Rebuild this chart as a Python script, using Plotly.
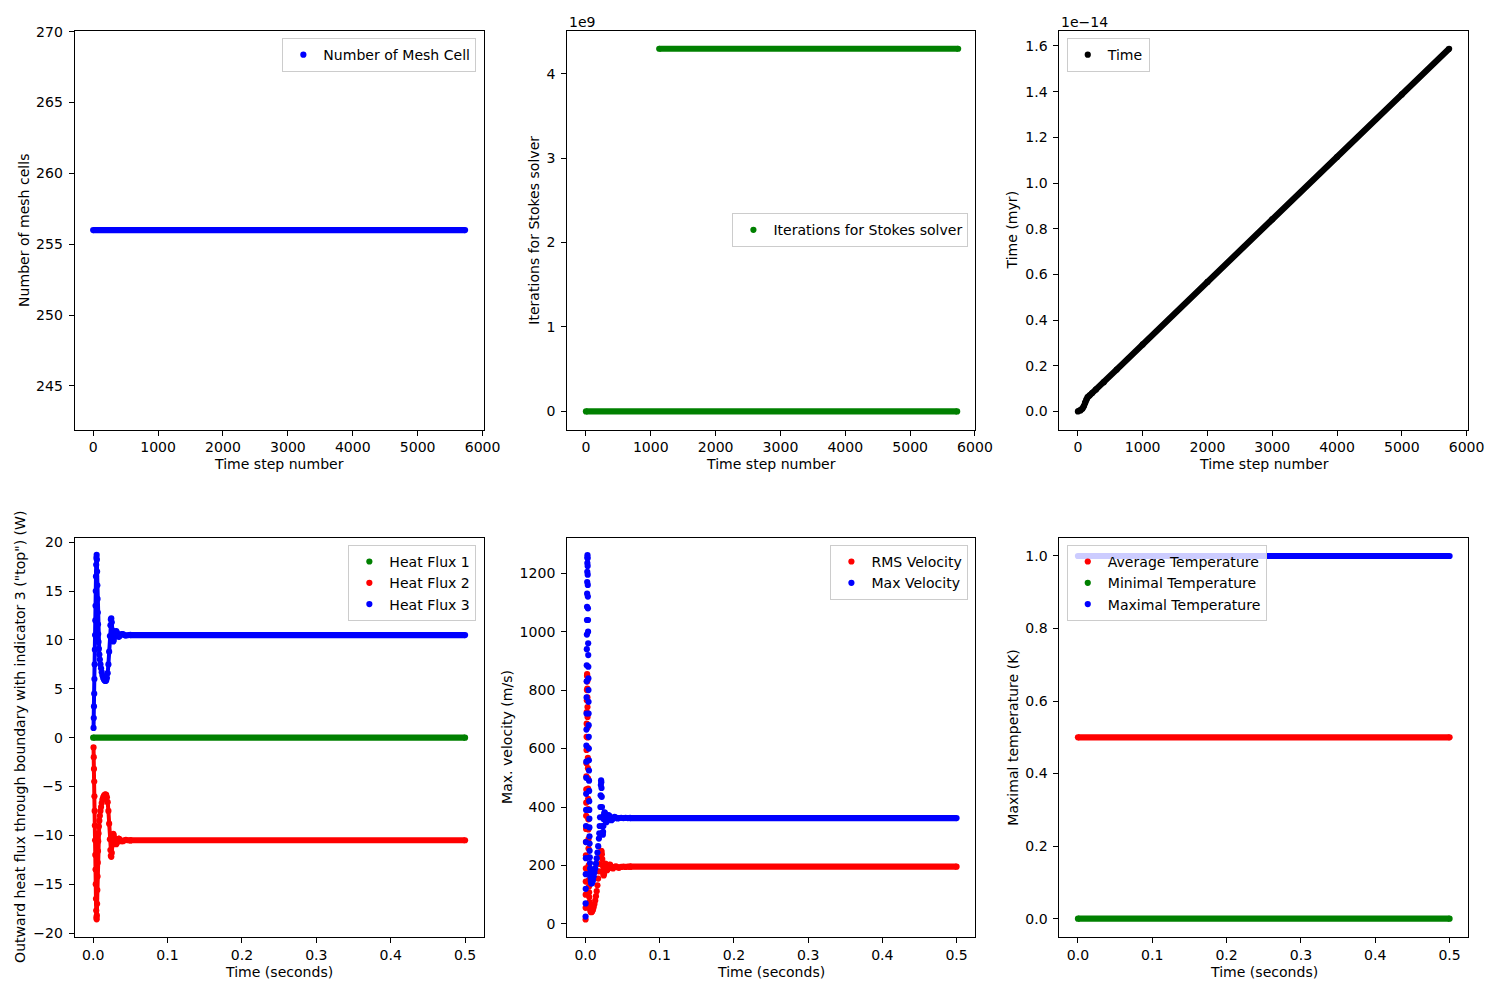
import plotly.graph_objects as go

# ---------------- data ----------------
# Top row: x = time step number
mesh_steps = [0, 5730]
mesh_cells = [256, 256]

stokes_zero_steps = [0, 5725]
stokes_zero_iters = [0, 0]
stokes_wrap_steps = [1130, 5740]
stokes_wrap_iters = [4.295e9, 4.295e9]

time_steps = [0, 40, 70, 90, 110, 130, 150, 180, 220, 280, 400, 600, 1000,
              2000, 3000, 4000, 5000, 5730]
time_myr = [0.0, 0.004e-14, 0.012e-14, 0.022e-14, 0.038e-14, 0.052e-14,
            0.062e-14, 0.070e-14, 0.080e-14, 0.096e-14, 0.128e-14, 0.183e-14,
            0.293e-14, 0.567e-14, 0.841e-14, 1.114e-14, 1.388e-14, 1.588e-14]

# Bottom left: heat flux (x = time in seconds)
flux_t = [0.0005, 0.0008, 0.0011, 0.0014, 0.0017, 0.0020, 0.0023, 0.0026,
          0.0029, 0.0032, 0.0035, 0.0038, 0.0041, 0.0044, 0.0047,
          0.0050, 0.0053, 0.0056, 0.0059, 0.0062, 0.0065, 0.0068, 0.0072,
          0.0077, 0.0083, 0.0090, 0.0098, 0.0106, 0.0115, 0.0125, 0.0135,
          0.0145, 0.0155, 0.0165, 0.0175, 0.0185, 0.0195, 0.0205, 0.0215,
          0.0225, 0.0232, 0.0238, 0.0244, 0.0250, 0.0255, 0.0260, 0.0265,
          0.0270, 0.0275, 0.0280, 0.0290, 0.0300, 0.0310, 0.0320, 0.0330,
          0.0340, 0.0350, 0.0360, 0.0380, 0.0400, 0.0420, 0.0440, 0.0470,
          0.0500]
flux3 = [1.0, 2.0, 3.2, 4.5, 6.0, 7.5, 9.0, 10.5, 12.0, 13.5, 15.0, 16.5,
         17.7, 18.4, 18.7,
         18.2, 17.0, 15.6, 14.2, 12.8, 11.6, 10.6, 9.8, 9.1, 8.5,
         8.0, 7.5, 7.1, 6.7, 6.35, 6.1, 5.95, 5.85, 5.8, 5.85,
         6.1, 6.6, 7.5, 8.8, 10.4, 11.5, 12.1, 12.2, 11.8, 11.0,
         10.3, 9.95, 9.85, 9.95, 10.2, 10.6, 10.85, 10.9, 10.75, 10.5,
         10.35, 10.35, 10.45, 10.6, 10.6, 10.5, 10.45, 10.5, 10.52]
flux2 = [-1.0, -2.0, -3.2, -4.5, -6.0, -7.5, -9.0, -10.5, -12.0, -13.5, -15.0,
         -16.5, -17.7, -18.4, -18.6,
         -18.2, -17.0, -15.6, -14.2, -12.8, -11.6, -10.6, -9.8, -9.1, -8.5,
         -8.0, -7.5, -7.1, -6.7, -6.35, -6.1, -5.95, -5.85, -5.8, -5.85,
         -6.1, -6.6, -7.5, -8.8, -10.4, -11.5, -12.1, -12.2, -11.8, -11.0,
         -10.3, -9.95, -9.85, -9.95, -10.2, -10.6, -10.85, -10.9, -10.75,
         -10.5, -10.35, -10.35, -10.45, -10.6, -10.6, -10.5, -10.45, -10.5,
         -10.52]
flux1_t = [0.0, 0.5]
flux1 = [0.0, 0.0]
flux_steady_t = [0.05, 0.5]
flux2_steady = [-10.5, -10.5]
flux3_steady = [10.5, 10.5]

# Bottom middle: velocities
vmax_t = [0.0000, 0.0001, 0.0002, 0.0003, 0.0004, 0.0005, 0.0006, 0.0007,
          0.0008, 0.0009, 0.0010, 0.0011, 0.0012, 0.0013, 0.0014, 0.0015,
          0.0016, 0.0017, 0.0018, 0.0019, 0.0020, 0.0021, 0.0022, 0.0023,
          0.0024, 0.0025, 0.0026,
          0.0027, 0.0028, 0.0029, 0.0030, 0.0031, 0.0032, 0.0033, 0.0034,
          0.0035, 0.0036, 0.0037, 0.0038, 0.0039, 0.0040, 0.0041, 0.0042,
          0.0043, 0.0044, 0.0045,
          0.0046, 0.0047, 0.0048, 0.0049, 0.0050, 0.0051, 0.0052, 0.0053,
          0.0054, 0.0055,
          0.0057, 0.0059, 0.0061, 0.0063, 0.0066, 0.0070, 0.0075, 0.0080,
          0.0085,
          0.0090, 0.0095, 0.0100, 0.0110, 0.0120, 0.0130, 0.0140, 0.0150,
          0.0160, 0.0170, 0.0180, 0.0185, 0.0190, 0.0195, 0.0200, 0.0203,
          0.0206, 0.0209, 0.0212, 0.0215, 0.0218, 0.0221, 0.0224, 0.0227,
          0.0230, 0.0233, 0.0236, 0.0240, 0.0245, 0.0250, 0.0255, 0.0260,
          0.0265, 0.0270, 0.0275, 0.0280, 0.0290, 0.0300, 0.0310, 0.0320,
          0.0330, 0.0340, 0.0350, 0.0370, 0.0390, 0.0410, 0.0430, 0.0450,
          0.0480, 0.0510, 0.0540, 0.0570, 0.0600]
vmax = [25, 70, 120, 170, 225, 280, 335, 390, 445, 500, 555, 610, 665, 720,
        775, 830, 885, 940, 990, 1040, 1085, 1130, 1170, 1205, 1235, 1255,
        1262,
        1250, 1225, 1195, 1160, 1120, 1080, 1040, 1000, 960, 920, 880, 840,
        800, 760, 720, 680, 640, 600, 560,
        525, 490, 455, 420, 390, 360, 330, 300, 275, 250,
        228, 208, 190, 175, 160, 148, 141, 138, 140,
        143, 147, 152, 163, 176, 190, 206, 224, 244, 266,
        292, 310, 335, 365, 400, 440, 475, 491, 485, 465,
        435, 400, 365, 335, 312, 305, 315, 335, 358, 375,
        382, 380, 370, 358, 350, 348, 352, 365, 372, 370,
        365, 358, 355, 360, 366, 364, 361, 362, 363, 362,
        363, 362, 363]
vrms_t = [0.0000, 0.0001, 0.0002, 0.0003, 0.0004, 0.0005, 0.0006, 0.0007,
          0.0008, 0.0009, 0.0010, 0.0011, 0.0012, 0.0013, 0.0014, 0.0015,
          0.0016, 0.0017, 0.0018, 0.0019, 0.0020, 0.0021,
          0.0022, 0.0023, 0.0024, 0.0025, 0.0026, 0.0027, 0.0028, 0.0029,
          0.0030, 0.0031, 0.0032, 0.0033, 0.0034, 0.0035, 0.0036, 0.0037,
          0.0038, 0.0039, 0.0040, 0.0041, 0.0042, 0.0043, 0.0044,
          0.0046, 0.0048, 0.0050, 0.0053, 0.0056, 0.0060, 0.0065, 0.0070,
          0.0076,
          0.0082, 0.0088, 0.0094, 0.0100, 0.0110, 0.0120, 0.0130, 0.0140,
          0.0150, 0.0160, 0.0170, 0.0180, 0.0190, 0.0200, 0.0205, 0.0210,
          0.0215, 0.0220, 0.0225, 0.0230, 0.0235, 0.0240, 0.0245, 0.0250,
          0.0255, 0.0260, 0.0265, 0.0270, 0.0275, 0.0280, 0.0290, 0.0300,
          0.0310, 0.0320, 0.0330, 0.0340, 0.0350, 0.0370, 0.0390, 0.0410,
          0.0430, 0.0450, 0.0480, 0.0510, 0.0540, 0.0570, 0.0600]
vrms = [15, 55, 100, 145, 190, 235, 280, 325, 370, 415, 460, 505, 550, 595,
        640, 685, 725, 765, 800, 830, 850, 855,
        848, 830, 805, 775, 742, 708, 673, 638, 603, 568, 533, 498, 463, 428,
        393, 358, 323, 290, 258, 228, 200, 174, 150,
        128, 108, 92, 75, 62, 52, 45, 41, 40,
        41, 43, 46, 50, 58, 68, 80, 95, 112, 132,
        155, 180, 205, 232, 243, 250, 248, 238, 222, 200,
        182, 170, 166, 172, 185, 198, 206, 205, 198, 190,
        184, 188, 196, 202, 203, 198, 192, 190, 195, 197,
        194, 192, 195, 196, 195, 196, 196]
vel_steady_t = [0.06, 0.5]
vrms_steady = [196, 196]
vmax_steady = [362, 362]

# Bottom right: temperatures
temp_t = [0.0, 0.5]
temp_avg = [0.5, 0.5]
temp_min = [0.0, 0.0]
temp_max = [1.0, 1.0]

assert len(flux_t) == len(flux3) == len(flux2)
assert len(vmax_t) == len(vmax), (len(vmax_t), len(vmax))
assert len(vrms_t) == len(vrms), (len(vrms_t), len(vrms))
assert len(time_steps) == len(time_myr)

# ---------------- styling ----------------
BLUE, GREEN, RED, BLACK = "#0000ff", "#008000", "#ff0000", "#000000"
W, H = 1500, 1000
# the page is shown slightly scaled/offset; map reference pixels to layout px
S, OX, OY = 0.9885, 7.4, 14.7
FS = 13.9 / S
MS = 6.2
FONT = "DejaVu Sans"
PAD = "\u2009"  # small gap between y tick labels and ticks


def X(px):
    return (px - OX) / S


def Y(py):
    return (py - OY) / S


fig = go.Figure()


def dots(x, y, color, name, ax, legend, showlegend=True):
    fig.add_trace(go.Scatter(
        x=x, y=y, mode="markers", name=name,
        marker=dict(color=color, size=MS, line=dict(width=0)),
        xaxis="x" + ax, yaxis="y" + ax, legend=legend,
        showlegend=showlegend, hoverinfo="x+y"))


def band(x, y, color, ax, width=MS):
    # dense run of dots drawn as a thick line with round dot ends
    fig.add_trace(go.Scatter(
        x=x, y=y, mode="lines+markers",
        line=dict(color=color, width=width),
        marker=dict(color=color, size=MS, line=dict(width=0)),
        xaxis="x" + ax, yaxis="y" + ax, showlegend=False, hoverinfo="skip"))


def legend_only(color, name, ax, legend):
    fig.add_trace(go.Scatter(
        x=[None], y=[None], mode="markers", name=name,
        marker=dict(color=color, size=MS),
        xaxis="x" + ax, yaxis="y" + ax, legend=legend, showlegend=True))


# 1: mesh cells
band(mesh_steps, mesh_cells, BLUE, "")
legend_only(BLUE, "Number of Mesh Cell", "", "legend")
# 2: Stokes iterations
band(stokes_zero_steps, stokes_zero_iters, GREEN, "2")
band(stokes_wrap_steps, stokes_wrap_iters, GREEN, "2")
legend_only(GREEN, "Iterations for Stokes solver", "2", "legend2")
# 3: time
band(time_steps, time_myr, BLACK, "3")
legend_only(BLACK, "Time", "3", "legend3")
# 4: heat flux
band(flux1_t, flux1, GREEN, "4")
legend_only(GREEN, "Heat Flux 1", "4", "legend4")
band(flux_t, flux2, RED, "4", width=4)
band(flux_steady_t, flux2_steady, RED, "4")
legend_only(RED, "Heat Flux 2", "4", "legend4")
band(flux_t, flux3, BLUE, "4", width=4)
band(flux_steady_t, flux3_steady, BLUE, "4")
legend_only(BLUE, "Heat Flux 3", "4", "legend4")
# 5: velocities
dots(vrms_t, vrms, RED, "RMS Velocity", "5", "legend5")
band(vel_steady_t, vrms_steady, RED, "5")
dots(vmax_t, vmax, BLUE, "Max Velocity", "5", "legend5")
band(vel_steady_t, vmax_steady, BLUE, "5")
# 6: temperatures
band(temp_t, temp_avg, RED, "6")
legend_only(RED, "Average Temperature", "6", "legend6")
band(temp_t, temp_min, GREEN, "6")
legend_only(GREEN, "Minimal Temperature", "6", "legend6")
band(temp_t, temp_max, BLUE, "6")
legend_only(BLUE, "Maximal Temperature", "6", "legend6")


def dom_x(a, b):
    return [X(a) / W, X(b) / W]


def dom_y(top, bottom):
    return [1 - Y(bottom) / H, 1 - Y(top) / H]


def axis(domain, rng, tickvals, ticktext, anchor, is_y=False):
    if is_y:
        ticktext = [t + PAD for t in ticktext]
    return dict(
        domain=domain, range=rng, anchor=anchor,
        tickvals=tickvals, ticktext=ticktext,
        showline=True, linecolor="black", linewidth=1, mirror=True,
        ticks="outside", ticklen=5 / S, tickwidth=1, tickcolor="black",
        showgrid=False, zeroline=False,
        tickfont=dict(family=FONT, size=FS, color="black"))


step_ticks = [0, 1000, 2000, 3000, 4000, 5000, 6000]
step_text = [str(v) for v in step_ticks]
sec_ticks = [0.0, 0.1, 0.2, 0.3, 0.4, 0.5]
sec_text = ["0.0", "0.1", "0.2", "0.3", "0.4", "0.5"]

XL = (74, 483.3)
XM = (566.7, 975)
XR = (1059.3, 1468.3)
YT = (30.3, 429)
YB = (537.3, 936)


def label(text, px, py, angle=0):
    return dict(text=text, x=X(px) / W, y=1 - Y(py) / H, xref="paper",
                yref="paper", xanchor="center", yanchor="middle",
                showarrow=False, textangle=angle,
                font=dict(family=FONT, size=FS, color="black"))


def cx(pair):
    return (pair[0] + pair[1]) / 2


annotations = [
    label("Time step number", cx(XL), 463.5),
    label("Time step number", cx(XM), 463.5),
    label("Time step number", cx(XR), 463.5),
    label("Time (seconds)", cx(XL), 971),
    label("Time (seconds)", cx(XM), 971),
    label("Time (seconds)", cx(XR), 971),
    label("Number of mesh cells", 23.3, cx(YT), -90),
    label("Iterations for Stokes solver", 533.3, cx(YT), -90),
    label("Time (myr)", 1012.3, cx(YT), -90),
    label("Outward heat flux through boundary with indicator 3 (\"top\") (W)",
          20, cx(YB), -90),
    label("Max. velocity (m/s)", 507.3, cx(YB), -90),
    label("Maximal temperature (K)", 1013.3, cx(YB), -90),
]
for txt, px in (("1e9", 566.7), ("1e\u221214", 1059.3)):
    a = label(txt, px, 21.5)
    a["xanchor"] = "left"
    annotations.append(a)

layout = dict(
    width=W, height=H, margin=dict(l=0, r=0, t=0, b=0),
    paper_bgcolor="white", plot_bgcolor="white",
    font=dict(family=FONT, size=FS, color="black"),
    xaxis=axis(dom_x(*XL), [-286.5, 6016.5], step_ticks, step_text, "y"),
    yaxis=axis(dom_y(*YT), [241.92, 270.08], [245, 250, 255, 260, 265, 270],
               ["245", "250", "255", "260", "265", "270"], "x", True),
    xaxis2=axis(dom_x(*XM), [-292, 6002], step_ticks, step_text, "y2"),
    yaxis2=axis(dom_y(*YT), [-0.2147e9, 4.5097e9],
                [0, 1e9, 2e9, 3e9, 4e9], ["0", "1", "2", "3", "4"], "x2", True),
    xaxis3=axis(dom_x(*XR), [-286, 6024], step_ticks, step_text, "y3"),
    yaxis3=axis(dom_y(*YT), [-0.0794e-14, 1.6674e-14],
                [0, 0.2e-14, 0.4e-14, 0.6e-14, 0.8e-14, 1.0e-14, 1.2e-14,
                 1.4e-14, 1.6e-14],
                ["0.0", "0.2", "0.4", "0.6", "0.8", "1.0", "1.2", "1.4", "1.6"],
                "x3", True),
    xaxis4=axis(dom_x(*XL), [-0.025, 0.525], sec_ticks, sec_text, "y4"),
    yaxis4=axis(dom_y(*YB), [-20.38, 20.45],
                [-20, -15, -10, -5, 0, 5, 10, 15, 20],
                ["\u221220", "\u221215", "\u221210", "\u22125", "0", "5", "10",
                 "15", "20"], "x4", True),
    xaxis5=axis(dom_x(*XM), [-0.025, 0.525], sec_ticks, sec_text, "y5"),
    yaxis5=axis(dom_y(*YB), [-44, 1321], [0, 200, 400, 600, 800, 1000, 1200],
                ["0", "200", "400", "600", "800", "1000", "1200"], "x5", True),
    xaxis6=axis(dom_x(*XR), [-0.025, 0.525], sec_ticks, sec_text, "y6"),
    yaxis6=axis(dom_y(*YB), [-0.05, 1.05], [0, 0.2, 0.4, 0.6, 0.8, 1.0],
                ["0.0", "0.2", "0.4", "0.6", "0.8", "1.0"], "x6", True),
    annotations=annotations,
    showlegend=True,
)

leg_common = dict(bgcolor="rgba(255,255,255,0.8)", bordercolor="#cccccc",
                  borderwidth=1, font=dict(family=FONT, size=FS, color="black"),
                  tracegroupgap=0, itemsizing="trace")
layout["legend"] = dict(x=X(476) / W, y=1 - Y(37.7) / H, xanchor="right",
                        yanchor="top", **leg_common)
layout["legend2"] = dict(x=X(968.3) / W, y=1 - Y(229.8) / H, xanchor="right",
                         yanchor="middle", **leg_common)
layout["legend3"] = dict(x=X(1066.7) / W, y=1 - Y(37.7) / H, xanchor="left",
                         yanchor="top", **leg_common)
layout["legend4"] = dict(x=X(476) / W, y=1 - Y(544.3) / H, xanchor="right",
                         yanchor="top", **leg_common)
layout["legend5"] = dict(x=X(968.3) / W, y=1 - Y(544.3) / H, xanchor="right",
                         yanchor="top", **leg_common)
layout["legend6"] = dict(x=X(1066.7) / W, y=1 - Y(544.3) / H, xanchor="left",
                         yanchor="top", **leg_common)

fig.update_layout(**layout)
fig.write_html("out.html")
